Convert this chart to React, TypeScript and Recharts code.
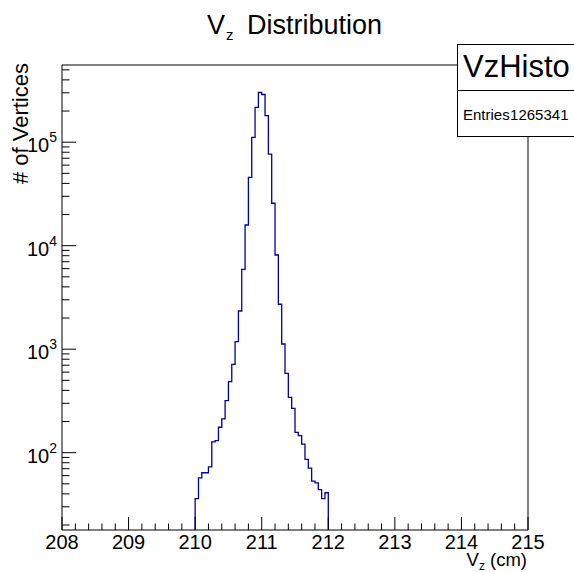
import React from 'react';
import { LineChart, Line, XAxis, YAxis, Customized } from 'recharts';

// ---- data -------------------------------------------------------------
const BIN_LOW_EDGES = [
  210.0, 210.05, 210.1, 210.15, 210.2, 210.25, 210.3, 210.35, 210.4, 210.45,
  210.5, 210.55, 210.6, 210.65, 210.7, 210.75, 210.8, 210.85, 210.9, 210.95,
  211.0, 211.05, 211.1, 211.15, 211.2, 211.25, 211.3, 211.35, 211.4, 211.45,
  211.5, 211.55, 211.6, 211.65, 211.7, 211.75, 211.8, 211.85, 211.9, 211.95,
];
const HIST_UPPER_EDGE = 212.0;
const COUNTS = [
  36, 57, 64, 64, 73, 127, 131, 176, 212, 318,
  485, 714, 1181, 2338, 5916, 15850, 45800, 111400, 217300, 302000,
  289000, 180300, 76560, 25700, 8130, 2716, 1122, 585, 343, 268,
  157, 146, 121, 86, 71, 53, 51, 44, 36, 41,
];

const X_MIN = 208;
const X_MAX = 215;
const X_MAJOR_LABELS = ['208', '209', '210', '211', '212', '213', '214', '215'];
const X_MINOR_STEP = 0.2;
const Y_MIN = 17.9;
const Y_MAX = 557000;
const Y_DECADES = [10, 100, 1000, 10000, 100000];
const Y_SUBDIVS = [1, 2, 3, 4, 5, 6, 7, 8, 9];

const TITLE = 'Distribution';
const X_TITLE_UNIT = ' (cm)';
const Y_TITLE = '# of Vertices';
const STATS_NAME = 'VzHisto';
const STATS_LABEL = 'Entries';
const STATS_ENTRIES = '1265341';

// ---- derived tables -----------------------------------------------------
const histData: { x: number; y: number }[] = [
  { x: BIN_LOW_EDGES[0], y: Y_MIN },
  ...BIN_LOW_EDGES.map((e, i) => ({ x: e, y: COUNTS[i] })),
  { x: HIST_UPPER_EDGE, y: COUNTS[COUNTS.length - 1] },
  { x: HIST_UPPER_EDGE, y: Y_MIN },
];

const xTicks: number[] = [];
for (let i = 0; i <= Math.round((X_MAX - X_MIN) / X_MINOR_STEP); i++) {
  xTicks.push(Math.round((X_MIN + i * X_MINOR_STEP) * 10) / 10);
}
const yTicks: number[] = [];
Y_DECADES.forEach((d) =>
  Y_SUBDIVS.forEach((m) => {
    const v = d * m;
    if (v >= Y_MIN && v <= Y_MAX) yTicks.push(v);
  })
);

// ---- layout -------------------------------------------------------------
const W = 574;
const H = 572;
const FRAME_LEFT = 62;
const FRAME_RIGHT = 528;
const FRAME_TOP = 65;
const FRAME_BOTTOM = 530;
const Y_AXIS_W = 40;
const X_AXIS_H = 30;
const SIDE_AXIS = 5;
const FONT = '"Liberation Sans", Arial, Helvetica, sans-serif';

const XTick = (props: any) => {
  const { x, payload } = props;
  const v = payload.value as number;
  const major = Math.abs(v - Math.round(v)) < 1e-6;
  const idx = Math.round(v) - X_MIN;
  return (
    <g>
      <line x1={x} x2={x} y1={FRAME_BOTTOM} y2={FRAME_BOTTOM - (major ? 13 : 6.5)} stroke="#000" strokeWidth={1} />
      {major && (
        <text x={x} y={549} textAnchor="middle" fontSize={20} fontFamily={FONT} fill="#000">
          {X_MAJOR_LABELS[idx]}
        </text>
      )}
    </g>
  );
};

const YTick = (props: any) => {
  const { y, payload } = props;
  const v = payload.value as number;
  const e = Math.log10(v);
  const major = Math.abs(e - Math.round(e)) < 1e-9;
  return (
    <g>
      <line x1={FRAME_LEFT} x2={FRAME_LEFT + (major ? 14 : 7.5)} y1={y} y2={y} stroke="#000" strokeWidth={1} />
      {major && (
        <text x={57} y={y + 10} textAnchor="end" fontSize={20} fontFamily={FONT} fill="#000">
          10
          <tspan dy={-10} fontSize={14}>
            {Math.round(e)}
          </tspan>
        </text>
      )}
    </g>
  );
};

const Titles = () => (
  <g fontFamily={FONT} fill="#000">
    <text x={207} y={34} fontSize={27}>V</text>
    <text x={226} y={40} fontSize={15}>z</text>
    <text x={247} y={34} fontSize={27}>{TITLE}</text>
    <text x={527} y={566} fontSize={18.5} textAnchor="end">
      V
      <tspan dy={4} fontSize={12}>z</tspan>
      <tspan dy={-4}>{X_TITLE_UNIT}</tspan>
    </text>
    <text transform={`translate(28, 63) rotate(-90)`} fontSize={22} textAnchor="end">
      {Y_TITLE}
    </text>
  </g>
);

export default function App() {
  return (
    <div style={{ position: 'absolute', left: 0, top: 0, width: W, height: H, background: '#fff' }}>
      <LineChart
        width={W}
        height={H}
        data={histData}
        margin={{
          top: FRAME_TOP - SIDE_AXIS,
          left: FRAME_LEFT - Y_AXIS_W,
          right: W - FRAME_RIGHT - SIDE_AXIS,
          bottom: H - FRAME_BOTTOM - X_AXIS_H,
        }}
      >
        <XAxis
          dataKey="x"
          type="number"
          domain={[X_MIN, X_MAX]}
          ticks={xTicks}
          interval={0}
          allowDataOverflow
          height={X_AXIS_H}
          tickSize={0}
          tickLine={false}
          tick={<XTick />}
          axisLine={{ stroke: '#000', strokeWidth: 1 }}
        />
        <XAxis
          xAxisId="top"
          orientation="top"
          type="number"
          domain={[X_MIN, X_MAX]}
          height={SIDE_AXIS}
          tick={false}
          tickLine={false}
          axisLine={{ stroke: '#000', strokeWidth: 1 }}
        />
        <YAxis
          dataKey="y"
          type="number"
          scale="log"
          domain={[Y_MIN, Y_MAX]}
          ticks={yTicks}
          interval={0}
          allowDataOverflow
          width={Y_AXIS_W}
          tickSize={0}
          tickLine={false}
          tick={<YTick />}
          axisLine={{ stroke: '#000', strokeWidth: 1 }}
        />
        <YAxis
          yAxisId="right"
          orientation="right"
          type="number"
          scale="log"
          domain={[Y_MIN, Y_MAX]}
          width={SIDE_AXIS}
          tick={false}
          tickLine={false}
          axisLine={{ stroke: '#000', strokeWidth: 1 }}
        />
        <Line
          dataKey="y"
          type="stepAfter"
          stroke="#000099"
          strokeWidth={1.3}
          dot={false}
          activeDot={false}
          isAnimationActive={false}
        />
        <Customized component={<Titles />} />
      </LineChart>
      <svg
        width={W}
        height={H}
        style={{ position: 'absolute', left: 0, top: 0, pointerEvents: 'none' }}
      >
        <g fontFamily={FONT} fill="#000">
          <rect x={457.5} y={44.5} width={140} height={92} fill="#fff" stroke="#000" strokeWidth={1} />
          <line x1={457.5} x2={W} y1={90.5} y2={90.5} stroke="#000" strokeWidth={1} />
          <text x={463} y={77} fontSize={31}>{STATS_NAME}</text>
          <text x={463} y={120} fontSize={15}>{STATS_LABEL}</text>
          <text x={568.5} y={120} fontSize={15} textAnchor="end">{STATS_ENTRIES}</text>
        </g>
      </svg>
    </div>
  );
}
